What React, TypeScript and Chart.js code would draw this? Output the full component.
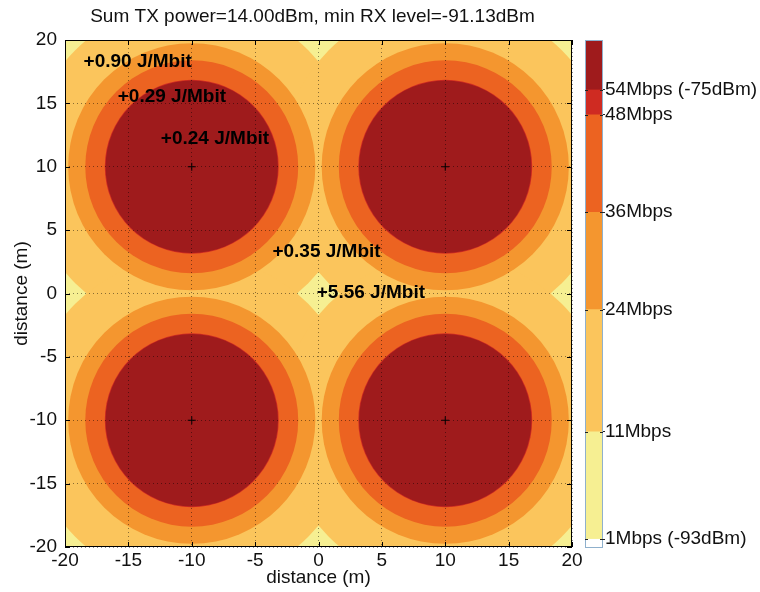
import React, { useEffect, useRef } from 'react';
import { Chart, registerables } from 'chart.js';

Chart.register(...registerables);

// ---------- data ----------
const TITLE = 'Sum TX power=14.00dBm, min RX level=-91.13dBm';
const X_TITLE = 'distance (m)';
const Y_TITLE = 'distance (m)';
const AXIS_MIN = -20;
const AXIS_MAX = 20;
const AXIS_STEP = 5;

// access point positions (m)
const AP_X = [-10, 10, -10, 10];
const AP_Y = [10, 10, -10, -10];

// rate levels, highest first; coverage radius (m) around the nearest AP
const RATE_LABELS = ['54Mbps', '48Mbps', '36Mbps', '24Mbps', '11Mbps', '1Mbps'];
const RATE_RADII = [6.8, 6.86, 8.4, 9.75, 13.0]; // 1Mbps covers the rest of the area

// energy annotations
const NOTE_X = [-18.1, -15.4, -12.0, -3.2, 0.3];
const NOTE_Y = [18.3, 15.5, 12.2, 3.3, 0.05];
const NOTE_TEXT = ['+0.90 J/Mbit', '+0.29 J/Mbit', '+0.24 J/Mbit', '+0.35 J/Mbit', '+5.56 J/Mbit'];

// colorbar (RX level, dBm), bottom to top
const CB_EDGES = [-93.35, -93, -88.7, -83.8, -79.9, -76, -75, -73];
const CB_TICKS = [-93, -88.7, -83.8, -79.9, -76, -75];
const CB_TICK_LABELS = ['1Mbps (-93dBm)', '11Mbps', '24Mbps', '36Mbps', '48Mbps', '54Mbps (-75dBm)'];

// ---------- styles ----------
const LEVEL_COLORS = ['#9f1b1c', '#cf2b22', '#ec6321', '#f4962f', '#fbc55c', '#f6ef92'];
const BELOW_COLOR = '#ffffff';
const FONT = "'Liberation Sans', Arial, Helvetica, sans-serif";
const FS = 19;

export default function App() {
  const mainRef = useRef<HTMLCanvasElement>(null);
  const cbRef = useRef<HTMLCanvasElement>(null);

  useEffect(() => {
    Chart.defaults.font.family = FONT;
    Chart.defaults.font.size = FS;
    Chart.defaults.color = '#111';

    const apPoints = AP_X.map((x, i) => ({ x, y: AP_Y[i] }));

    const levelDatasets = RATE_RADII.map((r, i) => {
      const rad = (ctx: any) => {
        const s = ctx.chart.scales.x;
        return Math.abs(s.getPixelForValue(r) - s.getPixelForValue(0));
      };
      return {
        label: RATE_LABELS[i],
        data: apPoints,
        backgroundColor: LEVEL_COLORS[i],
        borderWidth: 0,
        pointStyle: 'circle',
        pointRadius: rad,
        pointHoverRadius: rad,
        clip: 0,
        showLine: false,
      };
    });

    const markerDataset = {
      label: 'AP',
      data: apPoints,
      pointStyle: 'cross',
      pointRadius: 4,
      borderColor: '#000',
      borderWidth: 1,
      backgroundColor: '#000',
      showLine: false,
    };

    const bgPlugin = {
      id: 'bg',
      beforeDatasetsDraw(chart: any) {
        const { ctx, chartArea: a } = chart;
        ctx.save();
        ctx.fillStyle = LEVEL_COLORS[5];
        ctx.fillRect(a.left, a.top, a.right - a.left, a.bottom - a.top);
        ctx.restore();
      },
    };

    const decoPlugin = {
      id: 'deco',
      afterDraw(chart: any) {
        const { ctx, chartArea: a, scales } = chart;
        ctx.save();
        // annotations
        ctx.font = `bold ${FS}px ${FONT}`;
        ctx.fillStyle = '#000';
        ctx.textBaseline = 'middle';
        ctx.textAlign = 'left';
        const plusW = ctx.measureText('+').width;
        NOTE_TEXT.forEach((t, i) => {
          const px = scales.x.getPixelForValue(NOTE_X[i]);
          const py = scales.y.getPixelForValue(NOTE_Y[i]);
          ctx.fillText(t, px - plusW / 2, py);
        });
        // frame
        ctx.strokeStyle = '#000';
        ctx.lineWidth = 1;
        ctx.strokeRect(a.left + 0.5, a.top + 0.5, a.right - a.left - 1, a.bottom - a.top - 1);
        // inward ticks
        ctx.beginPath();
        scales.x.ticks.forEach((t: any) => {
          const px = Math.round(scales.x.getPixelForValue(t.value)) + 0.5;
          ctx.moveTo(px, a.bottom);
          ctx.lineTo(px, a.bottom - 5);
          ctx.moveTo(px, a.top);
          ctx.lineTo(px, a.top + 5);
        });
        scales.y.ticks.forEach((t: any) => {
          const py = Math.round(scales.y.getPixelForValue(t.value)) + 0.5;
          ctx.moveTo(a.left, py);
          ctx.lineTo(a.left + 5, py);
          ctx.moveTo(a.right, py);
          ctx.lineTo(a.right - 5, py);
        });
        ctx.stroke();
        // title
        ctx.font = `${FS}px ${FONT}`;
        ctx.textAlign = 'center';
        ctx.fillStyle = '#111';
        ctx.fillText(TITLE, (a.left + a.right) / 2 - 6, 17);
        ctx.restore();
      },
    };

    const gridCommon = {
      color: 'rgba(0,0,0,0.45)',
      lineWidth: 1,
      drawTicks: false,
      z: 1,
    };

    const main = new Chart(mainRef.current!, {
      type: 'scatter',
      data: { datasets: [markerDataset, ...levelDatasets] as any },
      options: {
        animation: false,
        responsive: false,
        events: [],
        layout: { padding: { top: 40, right: 188, left: 0, bottom: 0 } },
        plugins: { legend: { display: false }, tooltip: { enabled: false } },
        scales: {
          x: {
            type: 'linear',
            min: AXIS_MIN,
            max: AXIS_MAX,
            ticks: { stepSize: AXIS_STEP, padding: 2, color: '#111', font: { size: FS } },
            grid: gridCommon,
            border: { display: false, dash: [1, 3] },
            title: { display: true, text: X_TITLE, padding: { top: 0, bottom: 3 }, color: '#111', font: { size: FS } },
            afterFit: (s: any) => { s.height = 45; },
          },
          y: {
            type: 'linear',
            min: AXIS_MIN,
            max: AXIS_MAX,
            ticks: { stepSize: AXIS_STEP, padding: 8, color: '#111', font: { size: FS } },
            grid: gridCommon,
            border: { display: false, dash: [1, 3] },
            title: { display: true, text: Y_TITLE, padding: { top: 10, bottom: 0 }, color: '#111', font: { size: FS } },
            afterFit: (s: any) => { s.width = 65; },
          },
        },
      } as any,
      plugins: [bgPlugin, decoPlugin],
    });

    const cbColors = [BELOW_COLOR, ...LEVEL_COLORS.slice().reverse()];
    const cbDatasets = cbColors.map((c, i) => ({
      label: String(i),
      data: [[CB_EDGES[i], CB_EDGES[i + 1]]],
      backgroundColor: c,
      borderWidth: 0,
      grouped: false,
      barPercentage: 1,
      categoryPercentage: 1,
    }));

    const cbFrame = {
      id: 'cbFrame',
      afterDraw(chart: any) {
        const { ctx, chartArea: a, scales } = chart;
        ctx.save();
        ctx.strokeStyle = '#8fb0cc';
        ctx.lineWidth = 1;
        ctx.strokeRect(a.left + 0.5, a.top + 0.5, a.right - a.left - 1, a.bottom - a.top - 1);
        ctx.strokeStyle = '#222';
        ctx.beginPath();
        scales.y.ticks.forEach((t: any) => {
          const py = Math.round(scales.y.getPixelForValue(t.value)) + 0.5;
          ctx.moveTo(a.left, py);
          ctx.lineTo(a.left + 3, py);
          ctx.moveTo(a.right - 3, py);
          ctx.lineTo(a.right, py);
        });
        ctx.stroke();
        ctx.restore();
      },
    };

    const cb = new Chart(cbRef.current!, {
      type: 'bar',
      data: { labels: [''], datasets: cbDatasets as any },
      options: {
        animation: false,
        responsive: false,
        events: [],
        layout: { padding: { top: 40, left: 25, bottom: 44, right: 0 } },
        plugins: { legend: { display: false }, tooltip: { enabled: false } },
        scales: {
          x: { display: false },
          y: {
            position: 'right',
            min: CB_EDGES[0],
            max: CB_EDGES[CB_EDGES.length - 1],
            afterBuildTicks: (s: any) => {
              s.ticks = CB_TICKS.map((v) => ({ value: v }));
            },
            ticks: {
              autoSkip: false,
              padding: 0,
              color: '#111',
              font: { size: FS },
              callback: (_v: any, i: number) => CB_TICK_LABELS[i],
            },
            grid: { drawOnChartArea: false, drawTicks: true, tickLength: 2, color: '#222' },
            border: { display: false },
            afterFit: (s: any) => { s.width = 157; },
          },
        },
      } as any,
      plugins: [cbFrame],
    });

    return () => {
      main.destroy();
      cb.destroy();
    };
  }, []);

  return (
    <div style={{ position: 'fixed', left: 0, top: 0, width: 760, height: 592, background: '#fff' }}>
      <canvas ref={mainRef} width={760} height={592} style={{ position: 'absolute', left: 0, top: 0, width: 760, height: 592 }} />
      <canvas ref={cbRef} width={200} height={592} style={{ position: 'absolute', left: 560, top: 0, width: 200, height: 592 }} />
    </div>
  );
}
